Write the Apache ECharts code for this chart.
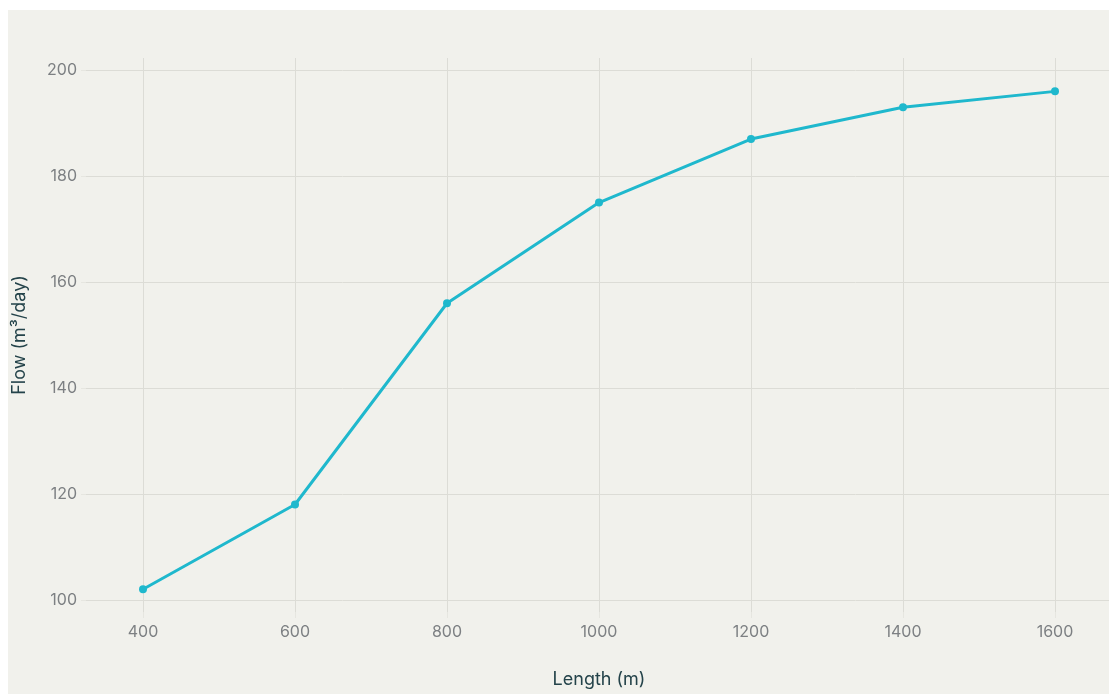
<!DOCTYPE html>
<html>
<head>
<meta charset="utf-8">
<script src="https://cdn.jsdelivr.net/npm/echarts@6/dist/echarts.min.js"></script>
<style>
  html, body { margin: 0; padding: 0; background: #ffffff; overflow: hidden; }
  #panel { position: absolute; left: 8px; top: 10px; width: 1101px; height: 684px; background: #f1f1ec; overflow: hidden; }
  #chart { position: absolute; left: 0; top: 0; width: 1110px; height: 684px; }
</style>
</head>
<body>
<div id="panel"><div id="chart"></div></div>
<script>
// lengths (m) and flow (m³/day)
const lengths = [400, 600, 800, 1000, 1200, 1400, 1600]
const flows = [102, 118, 156, 175, 187, 193, 196]
const xTicks = [400, 600, 800, 1000, 1200, 1400, 1600]
const yTicks = [100, 120, 140, 160, 180, 200]

const gridColor = '#dcdcd6'
const labelColor = '#7d8083'
const titleColor = '#24434a'
const lineColor = '#1fb8cd'

const chart = echarts.init(document.getElementById('chart'))
chart.setOption({
  animation: false,
  textStyle: { fontFamily: 'Inter' },
  grid: { left: 78, top: 48, width: 1026, bottom: 82, containLabel: false, outerBoundsMode: 'none' },
  xAxis: {
    type: 'value',
    min: 325,
    max: 1675,
    name: 'Length (m)',
    nameLocation: 'middle',
    nameGap: 59,
    nameTextStyle: { color: titleColor, fontSize: 18 },
    axisLine: { show: false },
    axisTick: { show: true, length: 6, customValues: xTicks, lineStyle: { color: '#e6e6e0' } },
    axisLabel: { customValues: xTicks, color: labelColor, fontSize: 16, margin: 12, formatter: v => String(v) },
    splitLine: { show: true, lineStyle: { color: gridColor, width: 1 } }
  },
  yAxis: {
    type: 'value',
    min: 97.7,
    max: 202.3,
    name: 'Flow (m³/day)',
    nameLocation: 'middle',
    nameGap: 57,
    nameTextStyle: { color: titleColor, fontSize: 18 },
    axisLine: { show: false },
    axisTick: { show: true, length: 5, customValues: yTicks, lineStyle: { color: '#e6e6e0' } },
    axisLabel: { customValues: yTicks, color: labelColor, fontSize: 16, margin: 9, formatter: v => String(v) },
    splitLine: { show: true, lineStyle: { color: gridColor, width: 1 } }
  },
  series: [{
    type: 'line',
    data: lengths.map((x, i) => [x, flows[i]]),
    symbol: 'circle',
    symbolSize: 8,
    lineStyle: { color: lineColor, width: 3 },
    itemStyle: { color: lineColor }
  }]
})
</script>
</body>
</html>
